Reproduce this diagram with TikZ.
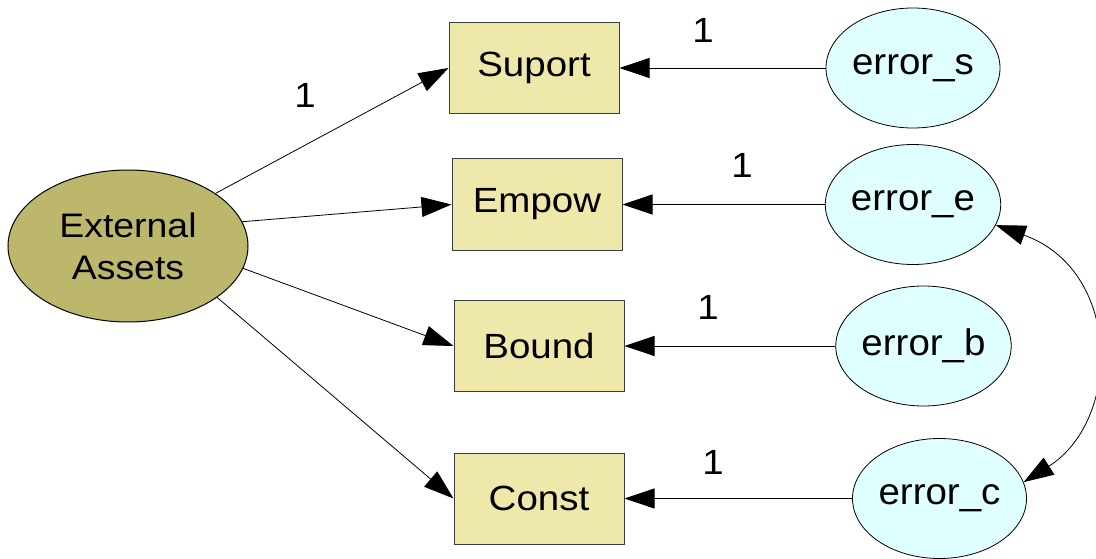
\documentclass[tikz,border=0pt]{standalone}
\usepackage{fontspec}
\setmainfont[FakeStretch=1.1]{Liberation Sans}
\newfontfamily\errfont[FakeStretch=1.04]{Liberation Sans}
\usetikzlibrary{arrows.meta,shapes.geometric}
\definecolor{boxfill}{RGB}{238,232,170}
\definecolor{latfill}{RGB}{189,183,107}
\definecolor{errfill}{RGB}{224,255,255}
\definecolor{edge}{RGB}{60,60,60}
\begin{document}
\begin{tikzpicture}[x=1pt,y=-1pt,
  every node/.style={font=\fontsize{35}{42}\selectfont},
  obs/.style={draw=edge,line width=1pt,fill=boxfill,rectangle,minimum width=170pt,minimum height=91pt,inner sep=0pt},
  lat/.style={draw=black,line width=1pt,fill=latfill,ellipse,minimum width=240pt,minimum height=152pt,inner sep=0pt,align=center,font=\fontsize{34}{42}\selectfont},
  err/.style={draw=black,line width=0.8pt,fill=errfill,ellipse,minimum width=174pt,minimum height=120pt,inner sep=0pt,font=\errfont\fontsize{37}{42}\selectfont},
  path/.style={draw=black,line width=0.8pt,-{Triangle[length=30pt,width=20pt]}},
  lbl/.style={inner sep=0pt}]
\useasboundingbox (0,0) rectangle (1096,559);
\node[lat] (ea) at (128,246) {External\\Assets};
\node[obs] (sup) at (534,68) {Suport};
\node[obs] (emp) at (537,204.5) {Empow};
\node[obs] (bou) at (539,346) {Bound};
\node[obs] (con) at (539,498.5) {Const};
\node[err] (es) at (913,68) {error\_s};
\node[err] (ee) at (913,204.5) {error\_e};
\node[err] (eb) at (923.5,346) {error\_b};
\node[err] (ec) at (939.5,498.5) {error\_c};
\draw[path] (ea.31) -- (sup.west);
\draw[path] (ea.12) -- (emp.west);
\draw[path] (ea.-11) -- (bou.west);
\draw[path] (ea.-30) -- (con.west);
\draw[path] (es) -- (sup.east);
\draw[path] (ee) -- (emp.east);
\draw[path] (eb) -- (bou.east);
\draw[path] (ec) -- (con.east);
\draw[draw=black,line width=0.8pt,{Triangle[length=30pt,width=20pt]}-{Triangle[length=30pt,width=20pt]}]
  (ee.-14) .. controls (1122,270) and (1122,420) .. (ec.11);
\node[lbl] (l0) at (305,95.5) {1};
\node[lbl] (l1) at (703,30) {1};
\node[lbl] (l2) at (742,165) {1};
\node[lbl] (l3) at (708,307) {1};
\node[lbl] (l4) at (713,462) {1};
\end{tikzpicture}
\end{document}
